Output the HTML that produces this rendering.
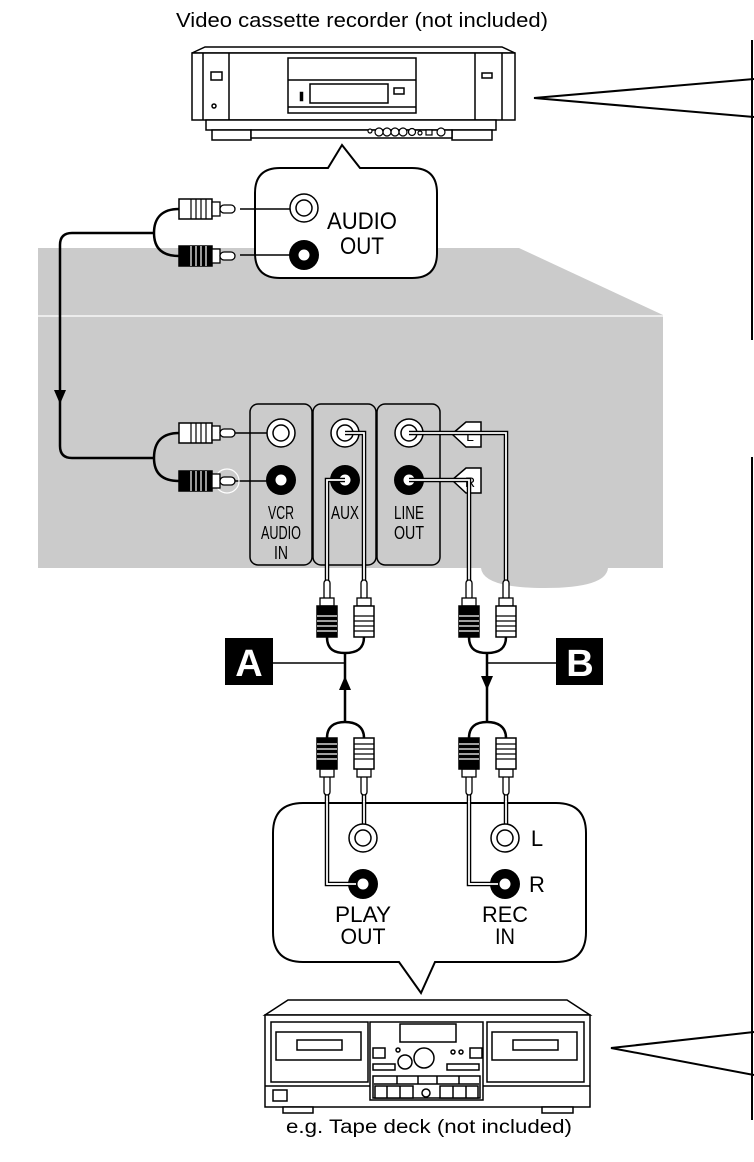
<!DOCTYPE html>
<html><head><meta charset="utf-8"><style>
html,body{margin:0;padding:0;background:#fff;}
svg{display:block;}
text{font-family:"Liberation Sans",sans-serif;fill:#000;}
</style></head><body>
<svg width="754" height="1162" viewBox="0 0 754 1162" xmlns="http://www.w3.org/2000/svg">
<defs>
<g id="plugWR">
  <rect x="0" y="-10" width="33" height="20" fill="#fff" stroke="#000" stroke-width="1.5"/>
  <path d="M12,-10V10M17,-10V10M22,-10V10M27,-10V10" stroke="#000" stroke-width="1.2"/>
  <rect x="33" y="-7" width="8" height="14" fill="#fff" stroke="#000" stroke-width="1.3"/>
  <rect x="41" y="-4" width="15" height="8" rx="4" fill="#fff" stroke="#000" stroke-width="1.3"/>
</g>
<g id="plugBR">
  <rect x="0" y="-10" width="33" height="20" fill="#000" stroke="#000" stroke-width="1.5"/>
  <path d="M12,-10V10M17,-10V10M22,-10V10M27,-10V10" stroke="#fff" stroke-width="1.2"/>
  <rect x="33" y="-7" width="8" height="14" fill="#fff" stroke="#000" stroke-width="1.3"/>
  <rect x="41" y="-4" width="15" height="8" rx="4" fill="#fff" stroke="#000" stroke-width="1.3"/>
</g>
<g id="plugWU">
  <rect x="-3" y="0" width="6" height="20" rx="3" fill="#fff" stroke="#000" stroke-width="1.3"/>
  <rect x="-7" y="18" width="14" height="8" fill="#fff" stroke="#000" stroke-width="1.3"/>
  <rect x="-10" y="26" width="20" height="31" fill="#fff" stroke="#000" stroke-width="1.5"/>
  <path d="M-10,36H10M-10,41H10M-10,46H10M-10,51H10" stroke="#000" stroke-width="1.2"/>
</g>
<g id="plugBU">
  <rect x="-3" y="0" width="6" height="20" rx="3" fill="#fff" stroke="#000" stroke-width="1.3"/>
  <rect x="-7" y="18" width="14" height="8" fill="#fff" stroke="#000" stroke-width="1.3"/>
  <rect x="-10" y="26" width="20" height="31" fill="#000" stroke="#000" stroke-width="1.5"/>
  <path d="M-10,36H10M-10,41H10M-10,46H10M-10,51H10" stroke="#fff" stroke-width="1.2"/>
</g>
<g id="jackW">
  <circle r="14" fill="#fff" stroke="#000" stroke-width="1.5"/>
  <circle r="8" fill="#fff" stroke="#000" stroke-width="1.5"/>
</g>
<g id="jackB">
  <circle r="15" fill="#000"/>
  <circle r="5.5" fill="#fff"/>
</g>
</defs>

<text x="362" y="27" font-size="20" text-anchor="middle" textLength="372" lengthAdjust="spacingAndGlyphs">Video cassette recorder (not included)</text>

<g fill="#fff" stroke="#000" stroke-width="1.5">
  <polygon points="192,53 205,47 502,47 515,53"/>
  <rect x="192" y="53" width="323" height="67"/>
  <path d="M203,53V120M229,53V120M475,53V120M502,53V120" fill="none"/>
  <rect x="211" y="72" width="11" height="8"/>
  <circle cx="214" cy="106" r="2"/>
  <rect x="482" y="73" width="10" height="5"/>
  <rect x="288" y="58" width="128" height="55"/>
  <path d="M288,80H416M288,107H416" fill="none"/>
  <rect x="310" y="84" width="78" height="19"/>
  <rect x="394" y="88" width="10" height="6"/>
  <rect x="300" y="92" width="3" height="9" fill="#000" stroke-width="0.5"/>
  <rect x="206" y="120" width="290" height="10"/>
  <rect x="212" y="130" width="39" height="10"/>
  <rect x="452" y="130" width="40" height="10"/>
  <rect x="251" y="130" width="201" height="8"/>
</g>
<g fill="#fff" stroke="#000" stroke-width="1.2">
  <circle cx="370" cy="131" r="2"/>
  <circle cx="379" cy="132" r="4"/><circle cx="387" cy="132" r="4"/><circle cx="395" cy="132" r="4"/><circle cx="403" cy="132" r="4"/>
  <circle cx="412" cy="132" r="3.5"/><circle cx="420" cy="133" r="2"/>
  <rect x="426" y="130" width="6" height="5"/><circle cx="441" cy="132" r="4"/>
</g>

<g fill="none" stroke="#000" stroke-width="2">
  <path d="M754,79 L534,98 L754,117"/>
  <path d="M752,40 V340"/>
  <path d="M752,457 V1120"/>
  <path d="M754,1032 L611,1048 L754,1075"/>
</g>

<polygon points="38,248 519,248 663,315 38,315" fill="#cbcbcb"/>
<rect x="38" y="317" width="625" height="251" fill="#cbcbcb"/>
<line x1="38" y1="316" x2="663" y2="316" stroke="#ececec" stroke-width="2"/>
<path d="M481,568 Q483,588 545,588 Q606,588 608,568 Z" fill="#cbcbcb"/>

<path d="M280,168 H328 L342,145 L360,168 H412 Q437,168 437,193 V253 Q437,278 412,278 H280 Q255,278 255,253 V193 Q255,168 280,168 Z" fill="#fff" stroke="#000" stroke-width="2"/>
<use href="#jackW" x="304" y="208"/>
<use href="#jackB" x="304" y="255"/>
<text x="362" y="229" font-size="24" text-anchor="middle" textLength="70" lengthAdjust="spacingAndGlyphs">AUDIO</text>
<text x="362" y="254" font-size="24" text-anchor="middle" textLength="44" lengthAdjust="spacingAndGlyphs">OUT</text>
<line x1="240" y1="209" x2="290" y2="209" stroke="#000" stroke-width="1.5"/>
<line x1="240" y1="255" x2="290" y2="255" stroke="#000" stroke-width="1.5"/>
<use href="#plugWR" x="179" y="209"/>
<use href="#plugBR" x="179" y="256"/>

<g fill="none" stroke="#000" stroke-width="2.5">
  <path d="M179,209 C162,209 154,218 154,233 C154,248 162,256 179,256"/>
  <path d="M154,233 H72 Q60,233 60,245 V446 Q60,458 72,458 H154"/>
  <path d="M179,433 C162,433 154,442 154,458 C154,473 162,481 179,481"/>
</g>
<polygon points="54,390 66,390 60,404" fill="#000"/>

<g fill="#cbcbcb" stroke="#000" stroke-width="1.5">
  <rect x="250" y="404" width="62" height="161" rx="8"/>
  <rect x="313" y="404" width="63" height="161" rx="8"/>
  <rect x="377" y="404" width="63" height="161" rx="8"/>
</g>
<use href="#jackW" x="281" y="433"/>
<use href="#jackB" x="281" y="480"/>
<use href="#jackW" x="345" y="433"/>
<use href="#jackB" x="345" y="480"/>
<use href="#jackW" x="409" y="433"/>
<use href="#jackB" x="409" y="480"/>
<g font-size="18" text-anchor="middle">
  <text x="281" y="519" textLength="26" lengthAdjust="spacingAndGlyphs">VCR</text>
  <text x="281" y="539" textLength="40" lengthAdjust="spacingAndGlyphs">AUDIO</text>
  <text x="281" y="559" textLength="14" lengthAdjust="spacingAndGlyphs">IN</text>
  <text x="345" y="519" textLength="28" lengthAdjust="spacingAndGlyphs">AUX</text>
  <text x="409" y="519" textLength="30" lengthAdjust="spacingAndGlyphs">LINE</text>
  <text x="409" y="539" textLength="30" lengthAdjust="spacingAndGlyphs">OUT</text>
</g>
<g fill="#fff" stroke="#000" stroke-width="1.5">
  <polygon points="452,434 466,422 481,422 481,447 466,447"/>
  <polygon points="452,480 466,468 481,468 481,493 466,493"/>
</g>
<text x="470" y="441" font-size="14" text-anchor="middle">L</text>
<text x="470" y="487" font-size="14" text-anchor="middle">R</text>

<line x1="235" y1="433" x2="267" y2="433" stroke="#000" stroke-width="1.5"/>
<line x1="235" y1="481" x2="267" y2="481" stroke="#000" stroke-width="1.5"/>
<circle cx="227" cy="481" r="12" fill="none" stroke="#fff" stroke-width="1.2"/>
<use href="#plugWR" x="179" y="433"/>
<use href="#plugBR" x="179" y="481"/>

<g fill="none">
  <g stroke="#000" stroke-width="4.5">
    <path d="M345,480 H327 V582"/><path d="M345,433 H364 V582"/>
    <path d="M409,480 H469 V582"/><path d="M409,433 H506 V582"/>
    <path d="M327,792 V884 H362"/><path d="M364,792 V838"/>
    <path d="M469,792 V884 H505"/><path d="M506,792 V838"/>
  </g>
  <g stroke="#fff" stroke-width="1.8">
    <path d="M345,480 H327 V582"/><path d="M345,433 H364 V582"/>
    <path d="M409,480 H469 V582"/><path d="M409,433 H506 V582"/>
    <path d="M327,792 V884 H362"/><path d="M364,792 V838"/>
    <path d="M469,792 V884 H505"/><path d="M506,792 V838"/>
  </g>
</g>

<use href="#plugBU" x="327" y="580"/>
<use href="#plugWU" x="364" y="580"/>
<use href="#plugBU" x="469" y="580"/>
<use href="#plugWU" x="506" y="580"/>

<g transform="translate(327,795) scale(1,-1)"><use href="#plugBU"/></g>
<g transform="translate(364,795) scale(1,-1)"><use href="#plugWU"/></g>
<g transform="translate(469,795) scale(1,-1)"><use href="#plugBU"/></g>
<g transform="translate(506,795) scale(1,-1)"><use href="#plugWU"/></g>

<g fill="none" stroke="#000" stroke-width="2.5">
  <path d="M327,637 C327,650 335,653 345,653 C355,653 364,650 364,637"/>
  <path d="M345,653 V722"/>
  <path d="M327,738 C327,726 335,722 345,722 C355,722 364,726 364,738"/>
  <path d="M469,637 C469,650 477,653 487,653 C497,653 506,650 506,637"/>
  <path d="M487,653 V722"/>
  <path d="M469,738 C469,726 477,722 487,722 C497,722 506,726 506,738"/>
</g>
<g stroke="#000" stroke-width="1.5">
  <line x1="273" y1="663" x2="345" y2="663"/>
  <line x1="487" y1="663" x2="556" y2="663"/>
</g>
<polygon points="345,676 339,690 351,690" fill="#000"/>
<polygon points="487,690 481,676 493,676" fill="#000"/>
<rect x="225" y="638" width="48" height="47" fill="#000"/>
<rect x="556" y="638" width="47" height="47" fill="#000"/>
<text x="249" y="676" font-size="38" font-weight="bold" text-anchor="middle" style="fill:#fff">A</text>
<text x="580" y="676" font-size="38" font-weight="bold" text-anchor="middle" style="fill:#fff">B</text>

<path d="M303,803 H556 Q586,803 586,833 V932 Q586,962 556,962 H435 L421,993 L399,962 H303 Q273,962 273,932 V833 Q273,803 303,803 Z" fill="#fff" stroke="#000" stroke-width="2"/>
<g stroke="#000" stroke-width="4.5" fill="none">
  <path d="M327,803 V884 H362"/><path d="M364,803 V838"/>
  <path d="M469,803 V884 H505"/><path d="M506,803 V838"/>
</g>
<g stroke="#fff" stroke-width="1.8" fill="none">
  <path d="M327,801 V884 H362"/><path d="M364,801 V838"/>
  <path d="M469,801 V884 H505"/><path d="M506,801 V838"/>
</g>
<use href="#jackW" x="363" y="838"/>
<use href="#jackB" x="363" y="884"/>
<use href="#jackW" x="505" y="838"/>
<use href="#jackB" x="505" y="884"/>
<line x1="327" y1="884" x2="356" y2="884" stroke="#fff" stroke-width="1.8"/>
<line x1="469" y1="884" x2="498" y2="884" stroke="#fff" stroke-width="1.8"/>
<g font-size="22" text-anchor="middle">
  <text x="363" y="922" textLength="56" lengthAdjust="spacingAndGlyphs">PLAY</text>
  <text x="363" y="944" textLength="45" lengthAdjust="spacingAndGlyphs">OUT</text>
  <text x="505" y="922" textLength="46" lengthAdjust="spacingAndGlyphs">REC</text>
  <text x="505" y="944" textLength="20" lengthAdjust="spacingAndGlyphs">IN</text>
  <text x="537" y="846">L</text>
  <text x="537" y="892">R</text>
</g>

<g fill="#fff" stroke="#000" stroke-width="1.5">
  <polygon points="265,1015 288,1000 567,1000 590,1015"/>
  <rect x="265" y="1015" width="325" height="92"/>
  <rect x="283" y="1107" width="30" height="6"/>
  <rect x="542" y="1107" width="31" height="6"/>
  <rect x="271" y="1022" width="97" height="60"/>
  <rect x="276" y="1032" width="85" height="28"/>
  <rect x="297" y="1040" width="45" height="10"/>
  <rect x="487" y="1022" width="97" height="60"/>
  <rect x="492" y="1032" width="85" height="28"/>
  <rect x="513" y="1040" width="45" height="10"/>
  <path d="M265,1086 H370 M483,1086 H590" fill="none"/>
  <rect x="370" y="1022" width="113" height="78"/>
  <rect x="400" y="1024" width="56" height="18"/>
  <rect x="373" y="1048" width="12" height="10"/>
  <rect x="470" y="1048" width="12" height="10"/>
  <circle cx="405" cy="1062" r="7"/>
  <circle cx="424" cy="1058" r="10"/>
  <circle cx="398" cy="1050" r="2"/>
  <circle cx="453" cy="1052" r="2"/><circle cx="461" cy="1052" r="2"/>
  <rect x="373" y="1064" width="22" height="6"/>
  <rect x="447" y="1064" width="32" height="6"/>
  <rect x="373" y="1076" width="107" height="22"/>
  <path d="M374,1084 H479 M397,1076 V1084 M418,1076V1084 M437,1076V1084 M459,1076V1084" fill="none"/>
  <rect x="375" y="1086" width="38" height="12"/>
  <path d="M387,1086V1098 M400,1086V1098" fill="none"/>
  <rect x="440" y="1086" width="38" height="12"/>
  <path d="M453,1086V1098 M466,1086V1098" fill="none"/>
  <circle cx="426" cy="1093" r="4"/>
  <rect x="273" y="1090" width="14" height="11"/>
</g>
<text x="429" y="1133" font-size="19" text-anchor="middle" textLength="286" lengthAdjust="spacingAndGlyphs">e.g. Tape deck (not included)</text>
</svg>
</body></html>
